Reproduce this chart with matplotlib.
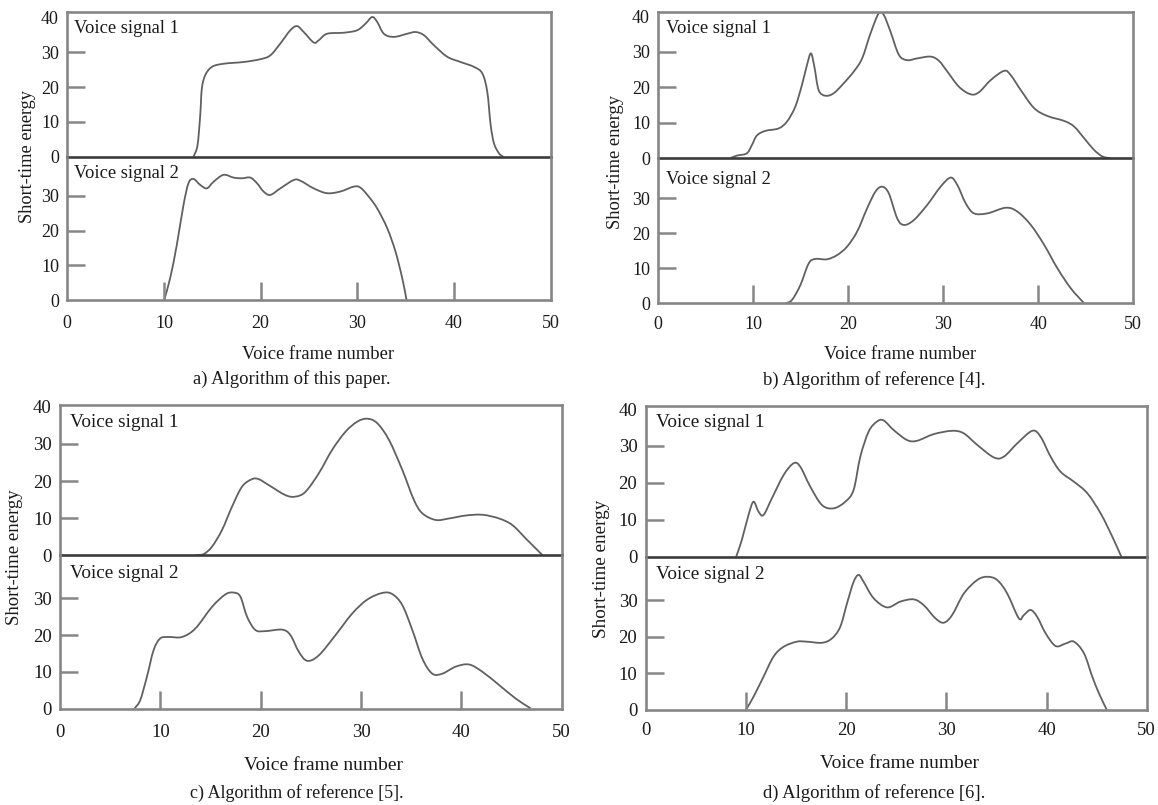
import numpy as np
import matplotlib
matplotlib.use("Agg")
import matplotlib.pyplot as plt
from matplotlib.path import Path
from matplotlib.patches import PathPatch

plt.rcParams['font.family'] = ['Liberation Serif', 'DejaVu Serif']

# ---- short-time energy curves (frame number, energy) ----
a1_x = [13.06, 13.47, 13.75, 13.92, 14.27, 14.96, 16.17, 18.24, 19.97, 21.0, 22.04, 23.07, 23.77, 24.46,
        25.49, 26.0, 26.87, 28.6, 29.98, 30.85, 31.54, 32.06, 32.75, 33.78, 35.16, 36.03, 36.89, 37.93,
        39.31, 40.69, 42.07, 42.94, 43.45, 43.8, 44.15, 44.66, 45.1]
a1_y = [0, 3.3, 11.9, 19.6, 23.4, 25.8, 26.7, 27.2, 28.0, 29.1, 32.5, 36.3, 37.5, 35.8,
        32.8, 33.4, 35.3, 35.6, 36.3, 38.2, 40.1, 38.7, 35.3, 34.4, 35.3, 35.8, 34.9, 32.0,
        28.7, 27.2, 25.8, 23.9, 18.6, 9.1, 3.8, 1.0, 0]
a2_x = [10.02, 10.64, 11.33, 12.02, 12.54, 13.06, 13.75, 14.44, 15.13, 16.17, 17.2, 18.07, 18.93, 19.62,
        20.3, 21.0, 22.04, 23.42, 24.11, 25.49, 26.87, 28.26, 29.64, 30.33, 31.19, 32.06, 33.1, 33.96,
        34.65, 35.1]
a2_y = [0, 6.3, 15.9, 27.4, 33.7, 34.9, 33.2, 32.2, 34.1, 36.1, 35.3, 35.1, 35.3, 33.7,
        31.3, 30.3, 32.2, 34.6, 34.4, 32.2, 30.8, 31.3, 32.7, 32.4, 29.8, 26.4, 20.7, 13.9,
        6.3, 0]

b1_x = [7.56, 8.27, 9.32, 9.85, 10.38, 11.26, 12.66, 13.54, 14.42, 15.12, 15.65, 16.07, 16.43, 16.88,
        17.59, 18.47, 19.52, 20.58, 21.46, 22.34, 23.21, 23.74, 24.45, 25.33, 26.2, 27.26, 28.67, 29.55,
        30.43, 31.66, 32.89, 33.77, 35.0, 36.41, 37.1, 38.16, 39.57, 40.97, 42.74, 43.79, 44.85, 45.9,
        46.78, 47.66]
b1_y = [0, 0.75, 1.4, 3.7, 6.4, 7.7, 8.4, 10.3, 14.5, 20.6, 26.2, 29.5, 25.8, 19.2,
        17.6, 18.3, 21.1, 24.4, 28.1, 35.1, 40.8, 40.3, 35.6, 29.1, 27.6, 28.1, 28.6, 27.4,
        24.4, 20.1, 18.0, 18.6, 22.0, 24.6, 23.4, 19.2, 14.1, 11.9, 10.5, 8.9, 5.6, 2.3,
        0.5, 0]
b2_x = [13.37, 14.07, 14.95, 15.83, 16.53, 17.76, 18.82, 19.87, 20.93, 21.98, 22.86, 23.57, 24.27, 25.15,
        25.86, 26.91, 28.31, 29.72, 30.78, 31.48, 32.36, 33.24, 34.65, 36.58, 37.81, 39.22, 40.63, 42.03,
        43.44, 44.85]
b2_y = [0, 1.0, 5.2, 11.4, 12.7, 12.6, 13.8, 16.2, 20.5, 27.1, 31.9, 33.3, 31.4, 24.3,
        22.4, 23.8, 28.1, 33.3, 35.9, 33.8, 28.6, 25.7, 25.7, 27.3, 26.2, 22.4, 16.7, 10.0,
        4.3, 0]

c1_x = [13.48, 14.31, 15.14, 16.14, 17.14, 18.14, 19.13, 19.8, 20.8, 22.46, 23.46, 24.46, 25.79, 27.12,
        28.45, 29.62, 30.62, 31.61, 32.78, 34.11, 35.27, 36.11, 37.44, 38.77, 40.43, 42.1, 43.76, 45.09,
        46.42, 47.42, 48.09]
c1_y = [0, 0.3, 2.3, 6.8, 13.1, 18.5, 20.5, 20.5, 18.9, 16.2, 15.8, 17.1, 22.1, 28.4,
        33.3, 36.0, 36.8, 35.6, 31.1, 23.0, 14.9, 11.3, 9.5, 9.9, 10.7, 10.9, 9.9, 8.1,
        4.5, 1.8, 0]
c2_x = [7.42, 7.99, 8.65, 9.32, 9.98, 10.82, 12.15, 13.48, 15.14, 16.47, 17.3, 17.97, 18.64, 19.47,
        20.47, 22.13, 22.96, 23.79, 24.63, 25.79, 27.45, 29.12, 30.62, 32.11, 33.11, 34.11, 35.11, 36.11,
        37.1, 38.1, 39.43, 40.77, 42.1, 43.76, 45.42, 46.92]
c2_y = [0, 2.3, 8.6, 15.9, 19.1, 19.5, 19.5, 21.8, 27.7, 31.1, 31.6, 30.5, 25.0, 21.4,
        21.1, 21.5, 20.0, 15.5, 13.0, 14.5, 20.0, 25.9, 29.7, 31.5, 31.2, 28.2, 21.4, 13.6,
        9.5, 9.5, 11.4, 12.0, 10.0, 6.4, 2.7, 0]

d1_x = [9.03, 9.59, 10.26, 10.76, 11.26, 11.76, 12.59, 13.76, 14.76, 15.42, 16.42, 17.59, 18.75, 19.92,
        20.75, 21.42, 22.25, 23.08, 23.75, 24.75, 26.08, 27.08, 28.75, 30.58, 31.75, 33.08, 34.74, 35.74,
        37.08, 38.58, 39.41, 40.41, 41.41, 42.74, 44.07, 45.41, 46.57, 47.47]
d1_y = [0, 4.5, 11.3, 14.9, 12.2, 11.3, 15.8, 22.1, 25.3, 24.4, 19.0, 14.0, 13.1, 14.9,
        18.1, 27.1, 33.9, 36.6, 36.9, 34.3, 31.6, 31.4, 33.2, 34.1, 33.4, 30.3, 26.9, 27.1,
        30.7, 34.1, 32.5, 27.1, 23.0, 20.3, 17.2, 11.7, 5.4, 0]
d2_x = [10.03, 10.76, 11.76, 12.76, 13.76, 15.09, 16.09, 17.59, 18.59, 19.42, 20.09, 20.75, 21.25, 21.75,
        22.75, 24.09, 25.42, 26.75, 27.75, 28.92, 29.75, 30.58, 31.75, 33.08, 34.08, 35.08, 36.08, 37.24,
        37.74, 38.41, 39.07, 39.91, 40.91, 41.91, 42.74, 43.74, 44.57, 45.24, 46.0]
d2_y = [0, 3.5, 9.0, 14.5, 17.2, 18.6, 18.6, 18.3, 19.5, 22.7, 29.1, 35.0, 36.9, 35.0,
        30.5, 28.0, 29.6, 30.2, 28.6, 25.0, 23.8, 25.9, 31.8, 35.5, 36.4, 35.5, 31.8, 25.0,
        25.9, 27.3, 25.4, 20.9, 17.4, 18.1, 18.6, 15.4, 9.0, 4.4, 0]

captions = ["a) Algorithm of this paper.", "b) Algorithm of reference [4].",
            "c) Algorithm of reference [5].", "d) Algorithm of reference [6]."]
signal_labels = ["Voice signal 1", "Voice signal 2"]
x_ticks = [0, 10, 20, 30, 40, 50]
upper_yticks = [0, 10, 20, 30, 40]
lower_yticks = [0, 10, 20, 30]

series = [(a1_x, a1_y, a2_x, a2_y), (b1_x, b1_y, b2_x, b2_y),
          (c1_x, c1_y, c2_x, c2_y), (d1_x, d1_y, d2_x, d2_y)]

# ---- layout (pixels): left, right, top, middle, bottom ----
W, H = 1158, 805
boxes = [(67.3, 550.6, 12.5, 156.8, 300), (658.3, 1133.2, 11.8, 158.3, 303.5),
         (60.1, 561.7, 405, 555.2, 708.5), (645.7, 1146.7, 405.7, 556.7, 709.5)]
upper_top = [41.4, 41.2, 40.5, 40.9]
lower_top = [41.3, 41.4, 41.8, 41.9]
xlabel_pos = [(318, 354), (900, 354), (323, 765), (900, 763)]
caption_pos = [(292, 379), (874, 380), (297, 793), (874, 793)]
ylabel_pos = [(27, 156), (615, 162), (15, 557), (602, 569)]
sig_dx = [6.6, 7.4, 10, 10]             # text inset from left spine (px)
sig_dy = [(16, 17), (17, 21), (17, 18), (17, 18)]   # below top / below middle (px)
xpad = [11, 9, 11, 9]
fs_tick = [13, 13, 13.5, 13.5]
fs_sig = [13.3, 13.3, 13.9, 13.9]
fs_xlab = [13.4, 13.4, 14, 14]
fs_ylab = [13.2, 13.3, 13.5, 13.8]
fs_cap = [13.4, 13.4, 13, 13.4]

SPINE = "#868686"
CURVE = "#606060"
TEXT = "#1a1a1a"
PT = 0.72  # points per pixel at 100 dpi


def smooth_path(xs, ys):
    """Catmull-Rom curve through the points, as cubic Bezier segments."""
    p = np.column_stack([xs, ys]).astype(float)
    ext = np.vstack([p[0] - (p[1] - p[0]), p, p[-1] + (p[-1] - p[-2])])
    verts = [p[0]]
    codes = [Path.MOVETO]
    for i in range(1, len(ext) - 2):
        p0, p1, p2, p3 = ext[i - 1], ext[i], ext[i + 1], ext[i + 2]
        c1 = p1 + (p2 - p0) / 6.0
        c2 = p2 - (p3 - p1) / 6.0
        verts += [c1, c2, p2]
        codes += [Path.CURVE4] * 3
    return Path(np.array(verts), codes)


def style_axis(ax, yticks, ytop, show_x, fs, xp):
    ax.set_xlim(0, 50)
    ax.set_ylim(0, ytop)
    ax.set_yticks(yticks)
    ax.tick_params(axis='y', direction='in', length=13, width=1.8, color=SPINE,
                   labelsize=fs, labelcolor=TEXT, pad=6)
    for tk, v in zip(ax.yaxis.get_major_ticks(), yticks):
        if v in (0, 40):
            tk.tick1line.set_visible(False)
    if show_x:
        ax.set_xticks(x_ticks)
        ax.tick_params(axis='x', direction='in', length=13, width=1.8, color=SPINE,
                       labelsize=fs, labelcolor=TEXT, pad=xp)
        for tk, v in zip(ax.xaxis.get_major_ticks(), x_ticks):
            if v in (0, 50):
                tk.tick1line.set_visible(False)
    else:
        ax.set_xticks([])
    for s in ax.spines.values():
        s.set_color(SPINE)
        s.set_linewidth(1.9)
    ax.patch.set_alpha(0)


fig = plt.figure(figsize=(W / 100, H / 100), dpi=100)

for k, (l, r, t, m, b) in enumerate(boxes):
    ax_u = fig.add_axes([l / W, 1 - m / H, (r - l) / W, (m - t) / H])
    ax_l = fig.add_axes([l / W, 1 - b / H, (r - l) / W, (b - m) / H])
    style_axis(ax_u, upper_yticks, upper_top[k], False, fs_tick[k], xpad[k])
    style_axis(ax_l, lower_yticks, lower_top[k], True, fs_tick[k], xpad[k])
    ax_u.spines['bottom'].set_color("#3c3c3c")
    ax_u.spines['bottom'].set_zorder(5)
    ax_l.spines['top'].set_visible(False)

    x1, y1, x2, y2 = series[k]
    for ax, xs, ys, lab, dy in ((ax_u, x1, y1, signal_labels[0], sig_dy[k][0]),
                                (ax_l, x2, y2, signal_labels[1], sig_dy[k][1])):
        ax.add_patch(PathPatch(smooth_path(xs, ys), fill=False, edgecolor=CURVE, lw=1.3))
        ax.annotate(lab, xy=(0, 1), xycoords='axes fraction',
                    xytext=(sig_dx[k] * PT, -dy * PT), textcoords='offset points',
                    ha='left', va='center', fontsize=fs_sig[k], color=TEXT)

    fig.text(xlabel_pos[k][0] / W, 1 - xlabel_pos[k][1] / H, "Voice frame number",
             ha='center', va='center', fontsize=fs_xlab[k], color=TEXT)
    fig.text(caption_pos[k][0] / W, 1 - caption_pos[k][1] / H, captions[k],
             ha='center', va='center', fontsize=fs_cap[k], color=TEXT)
    fig.text(ylabel_pos[k][0] / W, 1 - ylabel_pos[k][1] / H, "Short-time energy",
             ha='center', va='center', rotation=90, fontsize=fs_ylab[k], color=TEXT)

fig.savefig("out.png", dpi=100)
